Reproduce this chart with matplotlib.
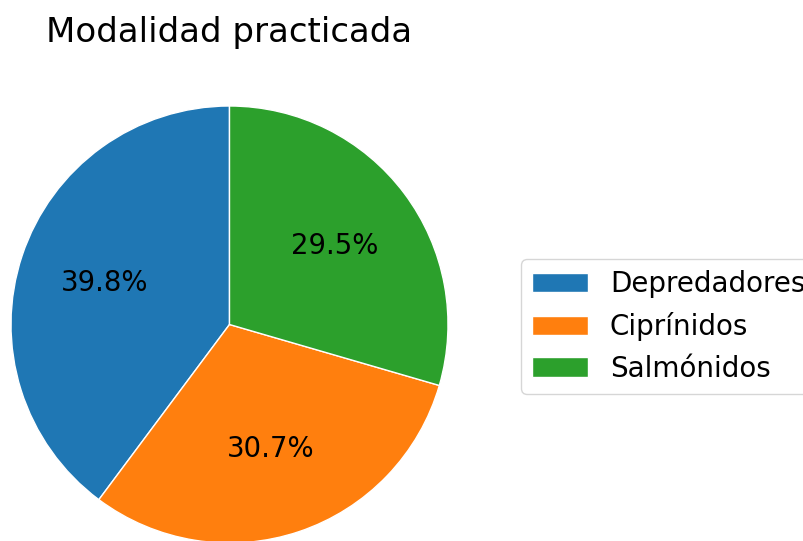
import matplotlib
matplotlib.use("Agg")
import matplotlib.pyplot as plt

categories = ["Depredadores", "Ciprínidos", "Salmónidos"]
values = [39.8, 30.7, 29.5]
colors = ["#1f77b4", "#ff7f0e", "#2ca02c"]
title = "Modalidad practicada"

W, H = 804, 541
fig = plt.figure(figsize=(W / 100, H / 100), dpi=100)

cx, cy, r = 229.5, 324.5, 218.5
ax = fig.add_axes([(cx - r) / W, (H - cy - r) / H, 2 * r / W, 2 * r / H])
wedges, texts, autotexts = ax.pie(
    values, colors=colors, startangle=90, autopct="%1.1f%%",
    wedgeprops=dict(edgecolor="white", linewidth=1),
    textprops=dict(fontsize=19.8),
)
ax.set_xlim(-1, 1)
ax.set_ylim(-1, 1)
ax.set_aspect("equal")
ax.axis("off")

fig.text(cx / W, 1 - 42 / H, title, ha="center", va="baseline", fontsize=24.5)

fig.legend(wedges, categories, loc="center left",
           bbox_to_anchor=(521 / W, 1 - 326.5 / H), fontsize=20,
           borderaxespad=0)

fig.savefig("out.png", dpi=100)
